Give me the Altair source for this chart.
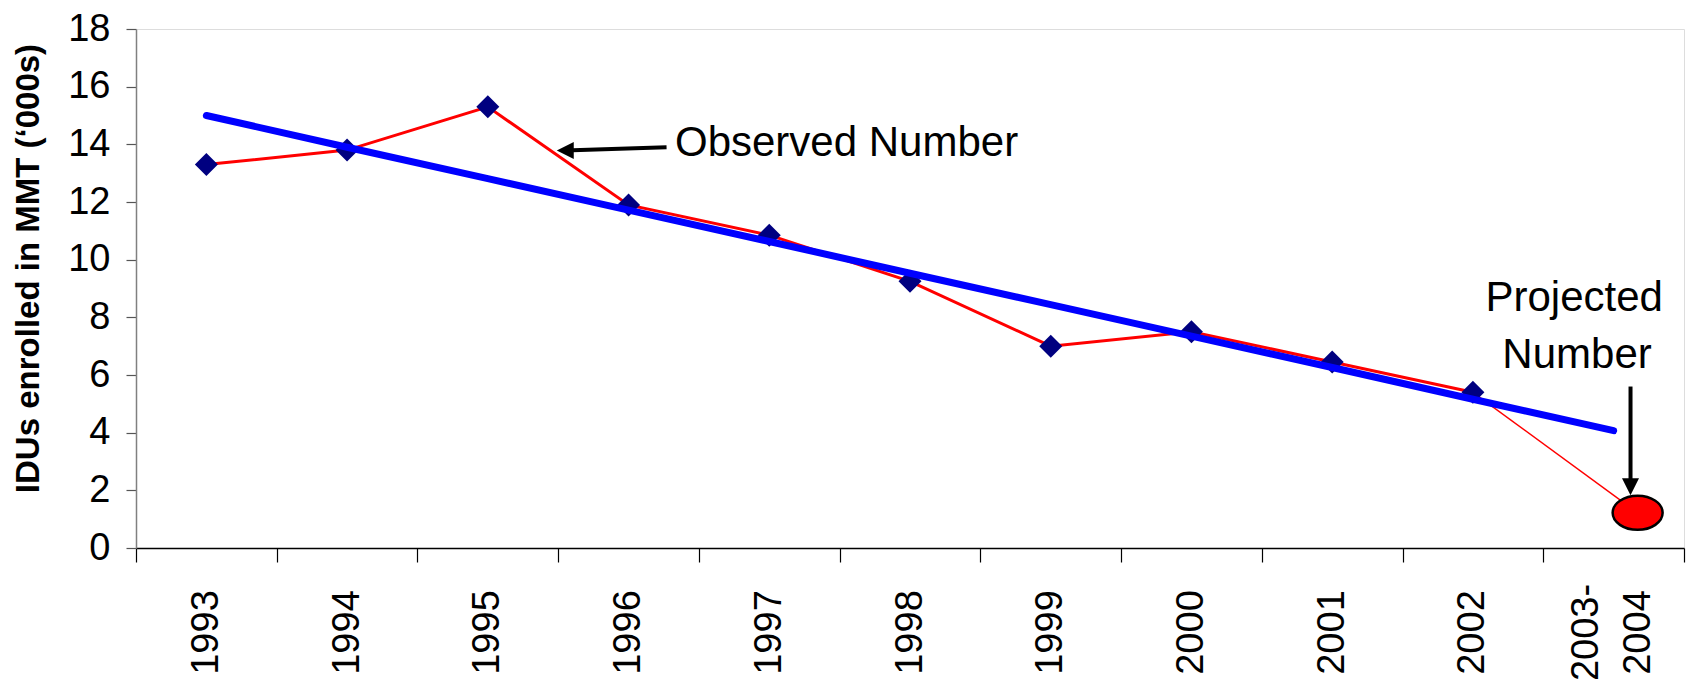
import altair as alt
import pandas as pd

# ---- data ----
categories = ["1993", "1994", "1995", "1996", "1997", "1998", "1999",
              "2000", "2001", "2002", "2003-2004"]
observed = [13.3, 13.8, 15.3, 11.9, 10.85, 9.25, 7.0, 7.5, 6.45, 5.4]
projected = 1.22
trend = [15.0, 13.9, 12.81, 11.72, 10.63, 9.53, 8.44, 7.35, 6.26, 5.16, 4.07]
y_ticks = [0, 2, 4, 6, 8, 10, 12, 14, 16, 18]

# annotation anchors: x in category-band units (0..11), y in data units
obs_arrow_x = [3.77, 2.99]
obs_arrow_y = [13.9, 13.79]
obs_label = ["Observed Number"]
obs_label_x = [3.83]
obs_label_y = [14.06]
proj_arrow_x = [10.62, 10.62]
proj_arrow_y = [5.6, 1.83]
proj_label = ["Projected", "Number"]
proj_label_x = [10.22, 10.24]
proj_label_y = [8.66, 6.7]

FONT = "Liberation Sans"

obs_df = pd.DataFrame({"year": categories[:len(observed)], "value": observed})
trend_df = pd.DataFrame({"year": categories, "value": trend})
proj_df = pd.DataFrame({"year": [categories[-1]], "value": [projected]})
seg_df = pd.DataFrame({"year": [categories[len(observed) - 1]], "value": [observed[-1]],
                       "year2": [categories[-1]], "value2": [projected]})

x_scale = alt.Scale(type="band", domain=categories, paddingInner=0, paddingOuter=0)
x_axis = alt.Axis(
    title=None, tickBand="extent", tickSize=14, tickColor="black", tickWidth=1.2,
    domainColor="black", domainWidth=1.5, grid=False,
    labelAngle=-90, labelAlign="center", labelBaseline="middle",
    labelFont=FONT, labelFontSize=38, labelColor="black", labelPadding=70,
    labelLineHeight=52, labelOverlap=False, labelBound=False,
    labelOffset={"condition": {"test": "datum.value == '2003-2004'", "value": -27}, "value": 0},
    labelExpr="datum.value == '2003-2004' ? ['2003-', '2004'] : datum.label",
)
x_enc = alt.X("year:N", scale=x_scale, axis=x_axis)

y_scale = alt.Scale(domain=[0, 18], nice=False, zero=True)
y_axis = alt.Axis(
    values=y_ticks, grid=False, tickSize=10, tickColor="#555555", tickWidth=1.2,
    domainColor="#808080", domainWidth=1.5,
    labelFont=FONT, labelFontSize=38, labelColor="black", labelPadding=16,
    title="IDUs enrolled in MMT (‘000s)", titleFont=FONT, titleFontSize=33,
    titleFontWeight="bold", titleColor="black", titlePadding=22, titleY=239,
)
y_enc = alt.Y("value:Q", scale=y_scale, axis=y_axis)

red_line = alt.Chart(obs_df).mark_line(color="#FF0000", strokeWidth=3).encode(x=x_enc, y=y_enc)
red_seg = alt.Chart(seg_df).mark_rule(color="#FF0000", strokeWidth=1.5, x2Offset=24).encode(
    x=x_enc, x2="year2:N", y=y_enc, y2="value2:Q")
diamonds = alt.Chart(obs_df).mark_point(
    shape="diamond", filled=True, color="#000080", size=529, opacity=1).encode(x=x_enc, y=y_enc)
trend_line = alt.Chart(trend_df).mark_line(
    color="#0000FF", strokeWidth=7, strokeCap="round").encode(x=x_enc, y=y_enc)
ellipse_path = ("M -1 0 C -1 -0.3756 -0.5523 -0.68 0 -0.68 C 0.5523 -0.68 1 -0.3756 1 0 "
                "C 1 0.3756 0.5523 0.68 0 0.68 C -0.5523 0.68 -1 0.3756 -1 0 Z")
ellipse = alt.Chart(proj_df).mark_point(
    shape=ellipse_path, filled=True, fill="#FF0000", stroke="black", strokeWidth=2.5,
    size=2500, opacity=1, xOffset=24).encode(x=x_enc, y=y_enc)

main = alt.layer(red_line, red_seg, diamonds, trend_line, ellipse)

# ---- annotations on a band-unit scale ----
ax_scale = alt.Scale(domain=[0, len(categories)], nice=False, zero=False)
def ax(field):
    return alt.X(field, scale=ax_scale, axis=None)

def ay(field):
    return alt.Y(field, scale=y_scale, axis=y_axis)

obs_arrow_df = pd.DataFrame({"x": [obs_arrow_x[0]], "value": [obs_arrow_y[0]],
                             "x2": [obs_arrow_x[1]], "value2": [obs_arrow_y[1]]})
obs_head_df = pd.DataFrame({"x": [obs_arrow_x[1]], "value": [obs_arrow_y[1]]})
proj_arrow_df = pd.DataFrame({"x": [proj_arrow_x[0]], "value": [proj_arrow_y[0]],
                              "x2": [proj_arrow_x[1]], "value2": [proj_arrow_y[1]]})
proj_head_df = pd.DataFrame({"x": [proj_arrow_x[1]], "value": [proj_arrow_y[1]]})
obs_text_df = pd.DataFrame({"x": obs_label_x, "value": obs_label_y, "t": obs_label})
proj_text_df = pd.DataFrame({"x": proj_label_x, "value": proj_label_y, "t": proj_label})

obs_shaft = alt.Chart(obs_arrow_df).mark_rule(color="black", strokeWidth=4, x2Offset=8).encode(
    x=ax("x:Q"), x2="x2:Q", y=ay("value:Q"), y2="value2:Q")
obs_head = alt.Chart(obs_head_df).mark_point(
    shape="M 0 0 L 2 -1 L 2 1 Z", filled=True, color="black", size=289, opacity=1).encode(
    x=ax("x:Q"), y=ay("value:Q"))
proj_shaft = alt.Chart(proj_arrow_df).mark_rule(color="black", strokeWidth=4, y2Offset=-8).encode(
    x=ax("x:Q"), x2="x2:Q", y=ay("value:Q"), y2="value2:Q")
proj_head = alt.Chart(proj_head_df).mark_point(
    shape="M 0 0 L -1 -2 L 1 -2 Z", filled=True, color="black", size=289, opacity=1).encode(
    x=ax("x:Q"), y=ay("value:Q"))
obs_text = alt.Chart(obs_text_df).mark_text(
    font=FONT, fontSize=42, align="left", baseline="middle", color="black").encode(
    x=ax("x:Q"), y=ay("value:Q"), text="t:N")
proj_text = alt.Chart(proj_text_df).mark_text(
    font=FONT, fontSize=42, align="center", baseline="middle", color="black").encode(
    x=ax("x:Q"), y=ay("value:Q"), text="t:N")

annot = alt.layer(obs_shaft, obs_head, proj_shaft, proj_head, obs_text, proj_text)

chart = alt.layer(main, annot).resolve_scale(x="independent").properties(
    width=1548, height=519,
    padding={"left": 128, "top": 21, "right": 2, "bottom": 135},
    autosize=alt.AutoSizeParams(type="none"),
).configure_view(stroke=None).configure(background="white")

chart.save("out.html", embed_options={"renderer": "svg", "actions": False})
